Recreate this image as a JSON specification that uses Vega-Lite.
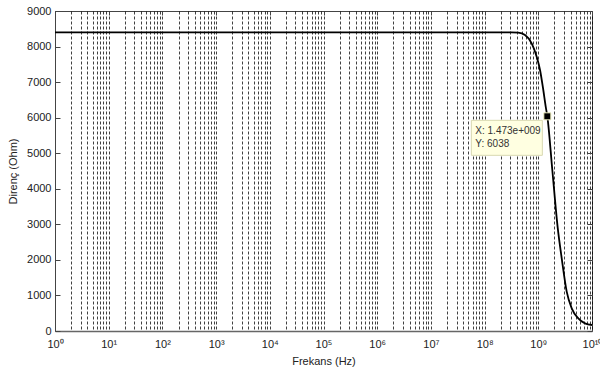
{
  "$schema": "https://vega.github.io/schema/vega-lite/v6.json",
  "width": 537,
  "height": 320,
  "autosize": {"type": "none"},
  "padding": {"left": 55, "top": 11, "right": 8, "bottom": 41},
  "background": "white",
  "config": {
    "view": {"stroke": "#444", "strokeWidth": 1},
    "font": "Liberation Sans",
    "axis": {"labelFont": "Liberation Sans", "titleFont": "Liberation Sans", "labelColor": "#222", "titleColor": "#222", "labelFontSize": 11, "titleFontSize": 11, "titleFontWeight": "normal"}
  },
  "datasets": {
    "curve": [
      {"f": 1, "r": 8400},
      {"f": 1e4, "r": 8400},
      {"f": 1e8, "r": 8400},
      {"f": 3.16e8, "r": 8398},
      {"f": 4.24e8, "r": 8390},
      {"f": 5.65e8, "r": 8325},
      {"f": 7.53e8, "r": 8091},
      {"f": 9.33e8, "r": 7715},
      {"f": 1.077e9, "r": 7341},
      {"f": 1.239e9, "r": 6778},
      {"f": 1.374e9, "r": 6309},
      {"f": 1.473e9, "r": 6038},
      {"f": 1.824e9, "r": 4528},
      {"f": 2.3e9, "r": 2900},
      {"f": 2.73e9, "r": 2044},
      {"f": 3.38e9, "r": 1106},
      {"f": 4.19e9, "r": 638},
      {"f": 5.56e9, "r": 357},
      {"f": 7.41e9, "r": 216},
      {"f": 1e10, "r": 169}
    ],
    "cursor": [
      {"f": 1.473e9, "r": 6038, "label": "X: 1.473e+009\nY: 6038"}
    ]
  },
  "resolve": {"axis": {"y": "independent", "x": "independent"}},
  "layer": [
    {
      "data": {"name": "curve"},
      "mark": {"type": "line", "color": "black", "strokeWidth": 1.8, "interpolate": "monotone"},
      "encoding": {
        "x": {
          "field": "f", "type": "quantitative",
          "scale": {"type": "log", "domain": [1, 1e10], "nice": false},
          "axis": {
            "title": "Frekans (Hz)",
            "values": [1,2,3,4,5,6,7,8,9,10,20,30,40,50,60,70,80,90,100,200,300,400,500,600,700,800,900,1e3,2e3,3e3,4e3,5e3,6e3,7e3,8e3,9e3,1e4,2e4,3e4,4e4,5e4,6e4,7e4,8e4,9e4,1e5,2e5,3e5,4e5,5e5,6e5,7e5,8e5,9e5,1e6,2e6,3e6,4e6,5e6,6e6,7e6,8e6,9e6,1e7,2e7,3e7,4e7,5e7,6e7,7e7,8e7,9e7,1e8,2e8,3e8,4e8,5e8,6e8,7e8,8e8,9e8,1e9,2e9,3e9,4e9,5e9,6e9,7e9,8e9,9e9,1e10],
            "labelExpr": "abs(log(datum.value)/LN10 - round(log(datum.value)/LN10)) < 0.001 ? ['10⁰','10¹','10²','10³','10⁴','10⁵','10⁶','10⁷','10⁸','10⁹','10¹⁰'][round(log(datum.value)/LN10)] : ''",
            "labelOverlap": false,
            "labelFlush": false,
            "labelPadding": 7,
            "ticks": false,
            "grid": true,
            "gridColor": "#000",
            "gridOpacity": 0.75,
            "gridDash": [3, 2],
            "gridWidth": 1,
            "domainColor": "#666",
            "domainWidth": 1.5,
            "titlePadding": 6
          }
        },
        "y": {
          "field": "r", "type": "quantitative",
          "scale": {"domain": [0, 9000], "nice": false},
          "axis": {
            "title": "Direnç (Ohm)",
            "values": [0,1000,2000,3000,4000,5000,6000,7000,8000,9000],
            "format": "d",
            "grid": false,
            "tickSize": -5,
            "tickColor": "#444",
            "labelPadding": 9,
            "domainColor": "#444",
            "titlePadding": 8
          }
        }
      }
    },
    {
      "data": {"name": "cursor"},
      "mark": {"type": "rect", "fill": "#ffffe1", "stroke": "#d8d8b0", "strokeWidth": 1, "xOffset": -76, "x2Offset": -5, "yOffset": 4, "y2Offset": 39},
      "encoding": {
        "x": {"field": "f", "type": "quantitative", "axis": null},
        "x2": {"field": "f"},
        "y": {"field": "r", "type": "quantitative", "axis": null},
        "y2": {"field": "r"}
      }
    },
    {
      "data": {"name": "cursor"},
      "mark": {"type": "text", "align": "left", "baseline": "top", "dx": -72, "dy": 10, "fontSize": 10, "lineHeight": 12.5, "color": "#333", "lineBreak": "\n"},
      "encoding": {
        "x": {"field": "f", "type": "quantitative", "axis": null},
        "y": {"field": "r", "type": "quantitative", "axis": null},
        "text": {"field": "label"}
      }
    },
    {
      "data": {"name": "cursor"},
      "mark": {"type": "point", "shape": "square", "size": 49, "filled": true, "color": "black", "stroke": "#f0f0c0", "strokeWidth": 1, "opacity": 1},
      "encoding": {
        "x": {"field": "f", "type": "quantitative", "axis": {"orient": "top", "values": [1,10,100,1e3,1e4,1e5,1e6,1e7,1e8,1e9,1e10], "labels": false, "title": null, "grid": false, "ticks": true, "tickSize": -4, "tickColor": "#444", "domain": false}},
        "y": {"field": "r", "type": "quantitative", "axis": {"orient": "right", "values": [0,1000,2000,3000,4000,5000,6000,7000,8000,9000], "labels": false, "title": null, "grid": false, "tickSize": -5, "tickColor": "#444", "domain": false}}
      }
    }
  ]
}
